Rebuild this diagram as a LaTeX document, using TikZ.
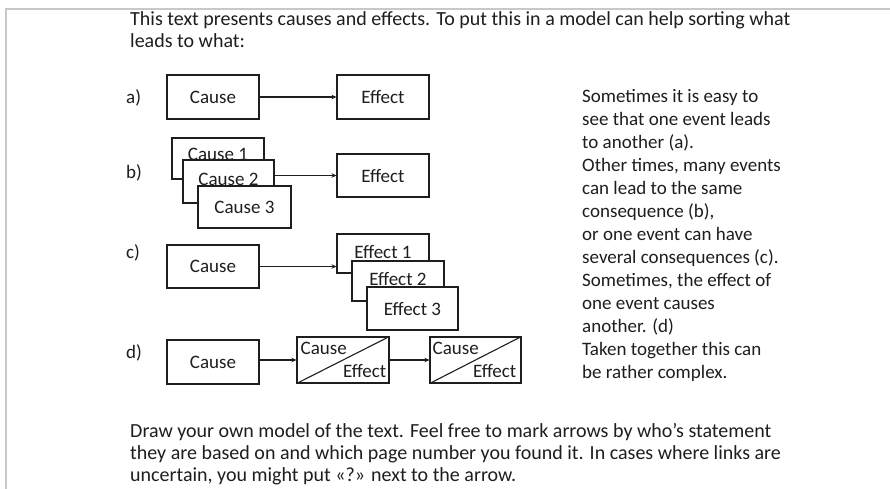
\documentclass[tikz,border=0pt]{standalone}
\usepackage{fontspec}
\setmainfont{Carlito}
\usetikzlibrary{arrows.meta}
\newcommand\fsz{\fontsize{19}{23}\selectfont}
\newcommand\fszb{\fontsize{20}{22.7}\selectfont}
\newcommand\fszc{\fontsize{20}{22}\selectfont}
\definecolor{ink}{HTML}{1E1E1E}
\definecolor{frame}{HTML}{C8C8C8}
\begin{document}
\begin{tikzpicture}[x=1pt,y=-1pt,
  box/.style={draw=ink, line width=1.1pt, fill=white, minimum width=92pt, minimum height=44pt, inner sep=0pt, font=\fsz, text=ink},
  para/.style={anchor=north west, inner sep=0pt, align=left, font=\fsz, text=ink},
  lbl/.style={anchor=west, inner sep=0pt, font=\fsz, text=ink},
  small/.style={inner sep=0pt, font=\fsz, text=ink},
  arr/.style={draw=ink, line width=1.1pt, -{Stealth[length=5pt,width=4.5pt]}}]
\useasboundingbox (0,0) rectangle (890,488);
\fill[white] (0,0) rectangle (890,488);
% frame
\draw[frame, line width=2.5pt] (6,520) -- (6,9) -- (900,9);

% intro text
\node[para, font=\fszb] (intro) at (130,9) {\strut This text presents causes and effects. To put this in a model can help sorting what\\leads to what:};

% a)
\node[lbl] (la) at (126,98) {a)};
\node[box] (ca) at (213,97) {Cause};
\node[box] (ea) at (383,97) {Effect};
\draw[arr] (ca.east) -- (ea.west);

% b)
\node[lbl] (lb) at (126,173) {b)};
\node[box, minimum height=41pt] (cb1) at (218,158.5) {\raisebox{7.5pt}{Cause 1}};
\node[box, minimum width=91pt, minimum height=43pt] (cb2) at (228.5,181.5) {\raisebox{4.5pt}{Cause 2}};
\node[box, minimum width=93pt, minimum height=42pt] (cb3) at (244.5,207) {Cause 3};
\node[box, minimum height=43pt] (eb) at (383,175.5) {Effect};
\draw[arr] (cb2.east |- eb.west) -- (eb.west);

% c)
\node[lbl] (lc) at (126,253) {c)};
\node[box, minimum height=43pt] (cc) at (213,266.5) {Cause};
\node[box, minimum height=39pt] (ec1) at (383,253.5) {\raisebox{4pt}{Effect 1}};
\node[box, minimum height=40pt] (ec2) at (398,281) {\raisebox{4.5pt}{Effect 2}};
\node[box, minimum width=91pt, minimum height=43pt] (ec3) at (412.5,308.5) {Effect 3};
\draw[arr] (cc.east) -- (cc.east -| ec1.west);

% d)
\node[lbl] (ld) at (126,353) {d)};
\node[box] (cd) at (213,362) {Cause};
\node[box, minimum height=46pt] (ce1) at (343,360) {};
\draw[ink, line width=1.1pt] (ce1.south west) -- (ce1.north east);
\node[small, anchor=base west] (ce1c) at ([xshift=4pt,yshift=-18pt]ce1.north west) {Cause};
\node[small, anchor=base east] (ce1e) at ([xshift=-3pt,yshift=6pt]ce1.south east) {Effect};
\node[box, minimum width=91pt, minimum height=46pt] (ce2) at (475.5,360) {};
\draw[ink, line width=1.1pt] (ce2.south west) -- (ce2.north east);
\node[small, anchor=base west] (ce2c) at ([xshift=3pt,yshift=-18pt]ce2.north west) {Cause};
\node[small, anchor=base east] (ce2e) at ([xshift=-5pt,yshift=6pt]ce2.south east) {Effect};
\draw[arr] (cd.east |- ce1.west) -- (ce1.west);
\draw[arr] (ce1.east) -- (ce2.west);

% right text
\node[para] (side) at (582,86) {\strut Sometimes it is easy to\\see that one event leads\\to another (a).\\Other times, many events\\can lead to the same\\consequence (b),\\or one event can have\\several consequences (c).\\Sometimes, the effect of\\one event causes\\another. (d)\\Taken together this can\\be rather complex.};

% bottom text
\node[para, font=\fszc] (task) at (130,422) {\strut Draw your own model of the text. Feel free to mark arrows by who’s statement\\they are based on and which page number you found it. In cases where links are\\uncertain, you might put «?» next to the arrow.};
\end{tikzpicture}
\end{document}
